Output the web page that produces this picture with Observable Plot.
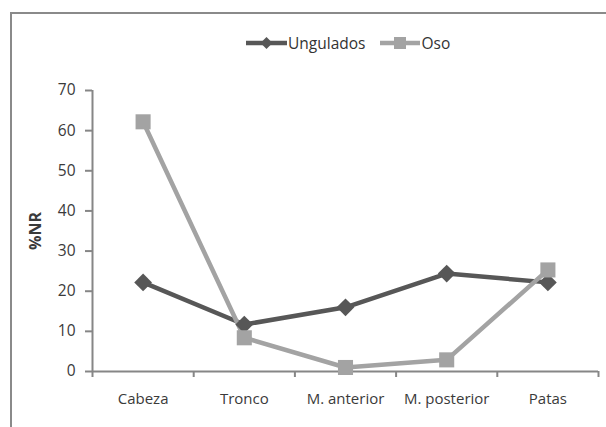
<!DOCTYPE html>
<html>
<head>
<meta charset="utf-8">
<script src="https://cdn.jsdelivr.net/npm/d3@7"></script>
<script src="https://cdn.jsdelivr.net/npm/@observablehq/plot@0.6"></script>
<style>
  html, body { margin: 0; padding: 0; background: #fff; }
  #wrap { position: relative; width: 606px; height: 427px; overflow: hidden; font-family: "Open Sans", sans-serif; }
  #frame { position: absolute; left: 10px; top: 12px; width: 700px; height: 500px; border-left: 2px solid #8a8a8a; border-top: 2px solid #8a8a8a; box-sizing: border-box; }
  #legend { position: absolute; left: 246px; top: 32px; display: flex; align-items: center; gap: 15px; font-size: 15.5px; color: #333; }
  #legend .item { display: flex; align-items: center; gap: 1px; }
  #chart { position: absolute; left: 0; top: 0; }
</style>
</head>
<body>
<div id="wrap">
  <div id="frame"></div>
  <div id="chart"></div>
  <div id="legend"></div>
</div>
<script>
const categories = ["Cabeza", "Tronco", "M. anterior", "M. posterior", "Patas"];
const ungulados = [22.2, 11.7, 16.0, 24.4, 22.2];
const oso = [62.2, 8.4, 1.0, 2.9, 25.3];
const yTicks = [0, 10, 20, 30, 40, 50, 60, 70];
const seriesNames = ["Ungulados", "Oso"];
const seriesColors = ["#575757", "#a3a3a3"];

const data = [];
categories.forEach((c, i) => {
  data.push({cat: c, idx: i + 0.5, value: ungulados[i], series: "Ungulados"});
});
categories.forEach((c, i) => {
  data.push({cat: c, idx: i + 0.5, value: oso[i], series: "Oso"});
});
const ung = data.filter(d => d.series === "Ungulados");
const os = data.filter(d => d.series === "Oso");

const plot = Plot.plot({
  width: 606,
  height: 427,
  marginLeft: 92,
  marginRight: 8,
  marginTop: 90,
  marginBottom: 56,
  style: {fontFamily: "Open Sans, sans-serif", fontSize: "15px", color: "#3a3a3a", background: "transparent"},
  x: {type: "linear", domain: [0, categories.length]},
  y: {domain: [0, 70]},
  marks: [
    Plot.axisY({ticks: yTicks, tickSize: 7, tickPadding: 10, stroke: "#868686", strokeWidth: 2, strokeOpacity: 1,
      label: "%NR", labelAnchor: "center", labelArrow: "none", labelOffset: 63, fontSize: 15.5}),
    Plot.axisX({ticks: d3.range(categories.length + 1), tickSize: 6, tickFormat: () => "", stroke: "#868686", strokeWidth: 2, strokeOpacity: 1, label: null}),
    Plot.axisX({ticks: categories.map((c, i) => i + 0.5), tickSize: 0, tickPadding: 22, tickFormat: (d) => categories[Math.floor(d)], label: null, fontSize: 15}),
    Plot.ruleX([0], {stroke: "#868686", strokeWidth: 2}),
    Plot.ruleY([0], {stroke: "#868686", strokeWidth: 2}),
    Plot.lineY(ung, {x: "idx", y: "value", stroke: seriesColors[0], strokeWidth: 4.5}),
    Plot.lineY(os, {x: "idx", y: "value", stroke: seriesColors[1], strokeWidth: 4.5}),
    Plot.dot(ung, {x: "idx", y: "value", symbol: "diamond2", r: 8, fill: seriesColors[0], stroke: seriesColors[0], strokeWidth: 0}),
    Plot.dot(os, {x: "idx", y: "value", symbol: "square", r: 8.5, fill: seriesColors[1], stroke: seriesColors[1], strokeWidth: 0})
  ]
});
plot.querySelectorAll("[aria-label='y-axis label'] text, [aria-label='y-axis label']").forEach(el => {
  el.setAttribute("font-weight", "bold");
  el.setAttribute("font-size", "16");
});
document.getElementById("chart").appendChild(plot);

const legend = document.getElementById("legend");
seriesNames.forEach((name, i) => {
  const item = document.createElement("div");
  item.className = "item";
  const sym = i === 0
    ? `<svg width="41" height="14"><line x1="0" y1="7" x2="41" y2="7" stroke="${seriesColors[i]}" stroke-width="4.5"/><path d="M20.5 1 L26.5 7 L20.5 13 L14.5 7 Z" fill="${seriesColors[i]}"/></svg>`
    : `<svg width="40" height="14"><line x1="0" y1="7" x2="40" y2="7" stroke="${seriesColors[i]}" stroke-width="4.5"/><rect x="14" y="1" width="12" height="12" fill="${seriesColors[i]}"/></svg>`;
  item.innerHTML = sym + `<span>${name}</span>`;
  legend.appendChild(item);
});
</script>
</body>
</html>
